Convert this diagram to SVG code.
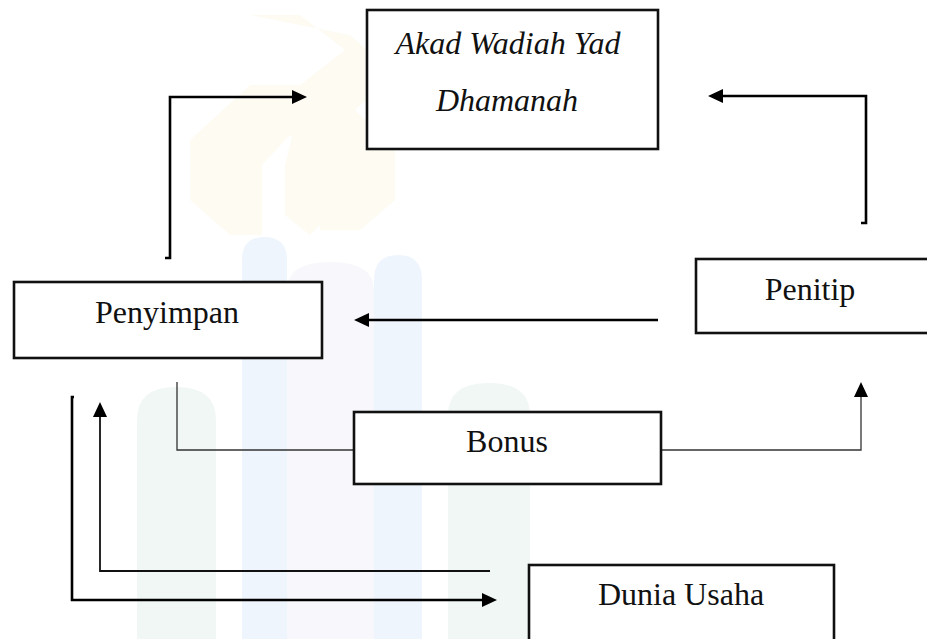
<svg xmlns="http://www.w3.org/2000/svg" width="927" height="639" viewBox="0 0 927 639">
  <style>
    .box { fill: #ffffff; stroke: #111; stroke-width: 2.6; }
    .lbl { font-family: "Liberation Serif", "Times New Roman", serif; font-size: 32px; fill: #111; text-anchor: middle; }
    .it { font-style: italic; }
    .thick { fill: none; stroke: #000; stroke-width: 2.6; }
    .mid { fill: none; stroke: #111; stroke-width: 1.8; }
    .thin { fill: none; stroke: #333; stroke-width: 1.3; }
  </style>
  <defs>
    <marker id="ah" markerUnits="userSpaceOnUse" markerWidth="16" markerHeight="16" refX="0" refY="7" orient="auto">
      <path d="M0,0 L15,7 L0,14 Z" fill="#000"/>
    </marker>
  </defs>
  <rect width="927" height="639" fill="#ffffff"/>
  <g id="watermark">
    <g fill="#fefbf3">
      <polygon points="250,15 300,15 345,50 300,85 250,85 190,140 190,200 230,235 262,235 262,165 290,135 320,165 320,230 360,230 395,200 395,150 355,110 395,75 350,35"/>
      <polygon points="300,105 345,150 345,200 310,235 285,215 285,165"/>
    </g>
    <path d="M137,639 V420 Q137,387 176,387 Q216,387 216,420 V639 Z" fill="#f1f7f4"/>
    <path d="M242,639 V260 Q242,237 264,237 Q287,237 287,260 V639 Z" fill="#eef5fc"/>
    <path d="M287,639 V290 Q287,262 330,262 Q374,262 374,290 V639 Z" fill="#f8f8fc"/>
    <path d="M374,639 V280 Q374,255 398,255 Q422,255 422,280 V639 Z" fill="#eef5fc"/>
    <path d="M448,639 V415 Q448,383 489,383 Q530,383 530,415 V639 Z" fill="#f1f7f4"/>
  </g>
  <g id="connectors">
    <path class="thick" d="M165,258 H170 V97 H292" marker-end="url(#ah)"/>
    <path class="thick" d="M861,223 H866 V96 H723" marker-end="url(#ah)"/>
    <path class="thick" d="M658,320 H369" marker-end="url(#ah)"/>
    <path class="thin" d="M177,382 V450 H354"/>
    <path class="thin" d="M661,450 H861 V397" marker-end="url(#ah)"/>
    <path class="thick" d="M74,397 H72 V600 H482" marker-end="url(#ah)"/>
    <path class="mid" d="M490,571 H100 V417" marker-end="url(#ah)"/>
  </g>
  <g id="akad">
    <rect class="box" x="367" y="10" width="291" height="139"/>
    <text class="lbl it" x="508" y="54">Akad Wadiah Yad</text>
    <text class="lbl it" x="507" y="111">Dhamanah</text>
  </g>
  <g id="penyimpan">
    <rect class="box" x="14" y="282" width="308" height="76"/>
    <text class="lbl" x="167" y="323">Penyimpan</text>
  </g>
  <g id="penitip">
    <rect class="box" x="696" y="259" width="240" height="74"/>
    <text class="lbl" x="810" y="300">Penitip</text>
  </g>
  <g id="bonus">
    <rect class="box" x="354" y="412" width="307" height="72"/>
    <text class="lbl" x="507" y="452">Bonus</text>
  </g>
  <g id="dunia-usaha">
    <rect class="box" x="529" y="565" width="305" height="84"/>
    <text class="lbl" x="681" y="605">Dunia Usaha</text>
  </g>
</svg>
